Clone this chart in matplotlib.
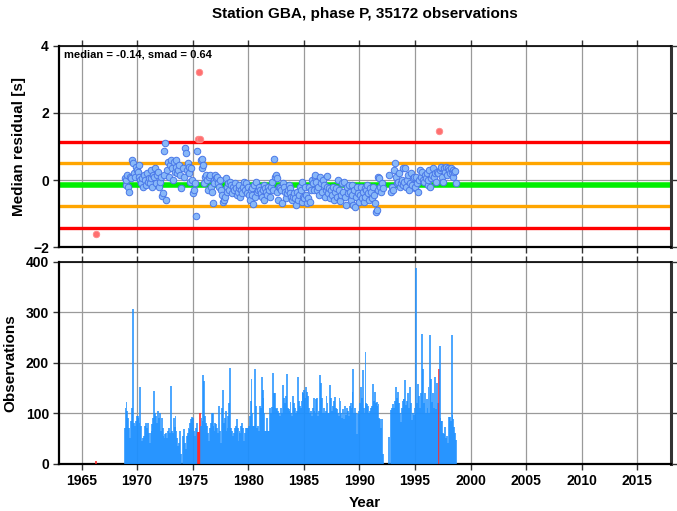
import numpy as np
import matplotlib
matplotlib.use('Agg')
import matplotlib.pyplot as plt

plt.rcParams.update({
    'font.family': ['Liberation Sans', 'DejaVu Sans'],
    'font.weight': 'bold',
    'font.size': 10,
})

# station summary
station = 'GBA'
phase = 'P'
n_obs = 35172
median = -0.14
smad = 0.64

# lone early month (1966, Apr)
early_year = 1966
early_month = 4
early_count = 5
early_resid = -1.62

# monthly series, starting Nov 1968; nan / 0 = no data
start_year = 1968
start_month = 11

obs_count = [
    70, 110,                                                   # 1968 Nov-Dec
    122, 105, 90, 70, 50, 85, 110, 306, 80, 75, 85, 95,        # 1969
    95, 90, 80, 152, 75, 45, 50, 55, 75, 80, 70, 80,           # 1970
    60, 40, 60, 65, 78, 90, 144, 100, 95, 80, 105, 90,         # 1971
    100, 65, 90, 70, 55, 50, 58, 60, 50, 65, 70, 60,           # 1972
    153, 65, 60, 90, 72, 95, 65, 50, 35, 40, 65, 20,           # 1973
    0, 55, 68, 40, 30, 55, 60, 70, 68, 80, 88, 92,             # 1974
    90, 65, 55, 70, 80, 62, 62, 100, 75, 90, 85, 175,          # 1975
    163, 95, 80, 75, 60, 45, 70, 80, 100, 100, 75, 65,         # 1976
    80, 78, 70, 60, 115, 65, 40, 110, 145, 80, 90, 105,        # 1977
    65, 70, 95, 120, 189, 70, 65, 55, 60, 70, 75, 88,          # 1978
    70, 45, 65, 60, 75, 80, 70, 45, 60, 70, 70, 70,            # 1979
    75, 95, 125, 168, 100, 75, 75, 187, 115, 70, 75, 65,       # 1980
    115, 110, 172, 145, 130, 100, 65, 65, 90, 65, 65, 110,     # 1981
    100, 112, 180, 140, 140, 110, 108, 110, 105, 100, 95, 110, # 1982
    100, 155, 130, 120, 135, 178, 110, 108, 105, 122, 100, 95, # 1983
    135, 120, 110, 100, 105, 172, 125, 115, 110, 125, 142, 140, # 1984
    145, 130, 152, 142, 135, 110, 100, 105, 95, 110, 130, 105, # 1985
    100, 128, 130, 95, 105, 175, 160, 130, 100, 110, 100, 105, # 1986
    134, 120, 100, 100, 155, 130, 105, 115, 125, 133, 110, 109, # 1987
    100, 95, 130, 125, 100, 90, 109, 89, 115, 96, 110, 105,    # 1988
    95, 115, 120, 110, 142, 187, 100, 110, 100, 59, 99, 105,   # 1989
    120, 152, 130, 185, 110, 100, 221, 120, 118, 115, 100, 105, # 1990
    110, 115, 158, 125, 142, 120, 122, 115, 118, 90, 89, 70,   # 1991
    89, 20, 0, 0, 0, 0, 0, 53, 0, 0, 106, 110,                 # 1992
    119, 110, 125, 152, 130, 142, 120, 100, 83, 110, 125, 129, # 1993
    129, 165, 116, 125, 139, 110, 152, 120, 86, 100, 96, 110,  # 1994
    100, 387, 120, 158, 135, 110, 140, 257, 188, 120, 139, 100, # 1995
    129, 110, 152, 100, 255, 168, 122, 140, 110, 172, 109, 160, # 1996
    120, 187, 233, 90, 84, 84, 60, 59, 73, 50, 55, 40,         # 1997
    92, 92, 85, 254, 96, 88, 73, 60, 46,                       # 1998 Jan-Sep
]

nan = np.nan
med_resid = [
    0.05, -0.15,                                                          # 1968
    0.0, 0.15, -0.2, -0.35, 0.1, 0.05, 0.6, 0.5, 0.2, 0.1, 0.4, 0.3,      # 1969
    0.25, 0.1, 0.45, 0.0, -0.1, 0.05, -0.2, 0.15, 0.0, -0.15, 0.2, -0.05, # 1970
    0.05, -0.1, 0.3, 0.05, -0.2, 0.15, 0.1, 0.35, -0.1, 0.15, 0.25, -0.2, # 1971
    -0.05, 0.1, -0.47, -0.4, 0.15, 0.87, 1.1, -0.61, 0.3, 0.55, 0.1, 0.45, # 1972
    0.6, 0.35, 0.0, 0.55, 0.25, 0.4, 0.6, 0.2, 0.3, 0.45, 0.15, -0.25,    # 1973
    nan, 0.35, 0.1, 0.97, 0.81, 0.3, 0.5, 0.2, 0.4, -0.05, 0.35, 0.0,     # 1974
    -0.4, -0.3, -0.1, -1.07, 0.88, 1.22, 3.22, 1.22, 0.6, 0.35, 0.62, 0.45, # 1975
    -0.1, 0.1, 0.15, 0.0, -0.3, 0.1, 0.15, -0.2, -0.35, -0.7, 0.0, -0.1,  # 1976
    0.15, 0.05, 0.1, -0.1, -0.2, 0.0, -0.3, -0.45, -0.65, -0.6, -0.5, 0.05, # 1977
    -0.2, -0.35, -0.1, -0.3, -0.05, -0.15, -0.4, -0.2, -0.3, -0.1, -0.25, -0.45, # 1978
    -0.35, -0.25, -0.15, -0.5, -0.3, -0.4, -0.2, -0.05, -0.3, -0.1, -0.4, -0.2, # 1979
    -0.45, -0.6, -0.3, -0.25, -0.45, -0.71, -0.15, -0.5, -0.05, -0.35, -0.3, -0.2, # 1980
    -0.3, -0.4, -0.5, -0.3, -0.15, -0.6, -0.25, -0.35, -0.45, -0.2, -0.3, -0.5, # 1981
    -0.2, -0.05, -0.3, 0.63, 0.1, 0.15, 0.05, -0.35, -0.6, -0.2, -0.25, -0.3, # 1982
    -0.69, -0.1, -0.2, -0.35, -0.55, -0.4, -0.3, -0.15, -0.25, -0.4, -0.5, -0.6, # 1983
    -0.5, -0.4, -0.55, -0.76, -0.35, -0.6, -0.45, -0.2, -0.3, -0.05, -0.65, -0.5, # 1984
    -0.55, -0.2, -0.45, -0.7, -0.55, -0.2, -0.65, -0.3, 0.0, -0.1, -0.3, 0.1, # 1985
    0.14, -0.05, -0.3, -0.2, -0.45, 0.1, -0.1, -0.35, 0.0, -0.15, -0.5, -0.3, # 1986
    -0.2, 0.13, -0.4, -0.25, -0.55, -0.3, -0.45, -0.2, -0.6, -0.35, -0.25, -0.5, # 1987
    0.0, -0.3, -0.6, -0.64, -0.45, -0.1, -0.35, -0.05, -0.5, -0.74, -0.2, -0.4, # 1988
    -0.15, -0.35, -0.6, -0.15, -0.45, -0.75, -0.3, -0.82, -0.5, -0.2, -0.4, -0.65, # 1989
    -0.45, -0.2, -0.55, -0.35, -0.65, -0.25, -0.5, -0.3, -0.15, -0.4, -0.6, -0.25, # 1990
    -0.35, -0.55, -0.2, -0.45, -0.7, -0.95, -0.9, -0.3, 0.1, 0.05, -0.2, -0.35, # 1991
    -0.1, -0.25, nan, nan, nan, nan, nan, 0.15, nan, nan, -0.35, -0.2,    # 1992
    -0.3, 0.3, 0.5, 0.1, -0.1, -0.05, 0.2, -0.2, -0.1, 0.0, 0.35, -0.15,  # 1993
    -0.05, 0.35, -0.2, 0.0, 0.15, -0.3, -0.1, 0.2, -0.15, 0.05, 0.1, -0.25, # 1994
    -0.2, 0.1, -0.1, -0.35, 0.0, 0.3, 0.1, 0.25, 0.0, -0.05, 0.15, 0.05,  # 1995
    0.2, -0.15, 0.0, 0.3, -0.2, 0.05, 0.15, 0.35, 0.1, 0.2, -0.05, 0.25,  # 1996
    0.2, 1.47, 0.3, 0.35, 0.4, 0.1, -0.05, 0.35, 0.25, 0.4, 0.15, 0.35,   # 1997
    0.3, 0.2, 0.35, 0.25, 0.1, 0.3, 0.25, 0.28, -0.1,                     # 1998
]

# ---- build time axis (month centres, decimal years)
counts = np.array([early_count] + obs_count, dtype=float)
resid = np.array([early_resid] + med_resid, dtype=float)
k = np.arange(len(obs_count))
t_main = start_year + (start_month - 1 + k + 0.5) / 12.0
t = np.concatenate([[early_year + (early_month - 0.5) / 12.0], t_main])

outlier = np.abs(resid - median) > 2 * smad
has_data = counts > 0

blue = '#1e90ff'
fig = plt.figure(figsize=(6.77, 5.11), dpi=100)
ax1 = fig.add_axes([0.0876, 0.5166, 0.9031, 0.3934])
ax2 = fig.add_axes([0.0876, 0.0926, 0.9031, 0.3953])

for ax in (ax1, ax2):
    ax.set_xlim(1963, 2018)
    ax.set_xticks(np.arange(1965, 2016, 5))
    ax.grid(True, color='#9a9a9a', lw=0.9)
    ax.set_axisbelow(True)
    ax.tick_params(direction='out', length=4, width=1, top=True, right=True,
                   labelsize=10, color='#333333')
    for side in ('left', 'bottom'):
        ax.spines[side].set_linewidth(1.6)
    ax.spines['top'].set_linewidth(1.2)
    ax.spines['right'].set_linewidth(2.2)
    ax.spines['right'].set_color('#333333')

# ---- top panel: monthly median residuals
ax1.axhline(median + 2 * smad, color='#ff0000', lw=2.4, zorder=2)
ax1.axhline(median - 2 * smad, color='#ff0000', lw=2.4, zorder=2)
ax1.axhline(median + smad, color='#ffa500', lw=2.4, zorder=2)
ax1.axhline(median - smad, color='#ffa500', lw=2.4, zorder=2)
ax1.axhline(median, color='#00ee00', lw=4, zorder=2)

ok = has_data & ~np.isnan(resid)
ax1.scatter(t[ok & ~outlier], resid[ok & ~outlier], s=22, c='#88b8f8',
            edgecolors='#4a78e8', linewidths=0.7, zorder=3)
ax1.scatter(t[ok & outlier], resid[ok & outlier], s=22, c='#ff7070',
            edgecolors='#ff8a8a', linewidths=0.6, zorder=4)

ax1.set_ylim(-2, 4)
ax1.set_yticks([-2, 0, 2, 4])
ax1.tick_params(labelbottom=False)
ax1.set_ylabel('Median residual [s]', fontsize=11, fontweight='bold', labelpad=5)
ax1.set_title('Station %s, phase %s, %d observations' % (station, phase, n_obs),
              fontsize=11, fontweight='bold', pad=20)
ax1.text(0.008, 0.985, 'median = %.2f, smad = %.2f' % (median, smad),
         transform=ax1.transAxes, ha='left', va='top', fontsize=8,
         fontweight='bold')

# ---- bottom panel: observations per month
bar_w = 1.0 / 12.0
col = np.where(outlier, '#ff2020', blue)
ax2.bar(t[has_data], counts[has_data], width=bar_w * 2.0, color=col[has_data],
        alpha=0.78, linewidth=0, zorder=3)
ax2.set_ylim(0, 400)
ax2.set_yticks([0, 100, 200, 300, 400])
ax2.set_ylabel('Observations', fontsize=11, fontweight='bold', labelpad=6)
ax2.set_xlabel('Year', fontsize=11, fontweight='bold', labelpad=6)

fig.savefig('out.png', dpi=100)
